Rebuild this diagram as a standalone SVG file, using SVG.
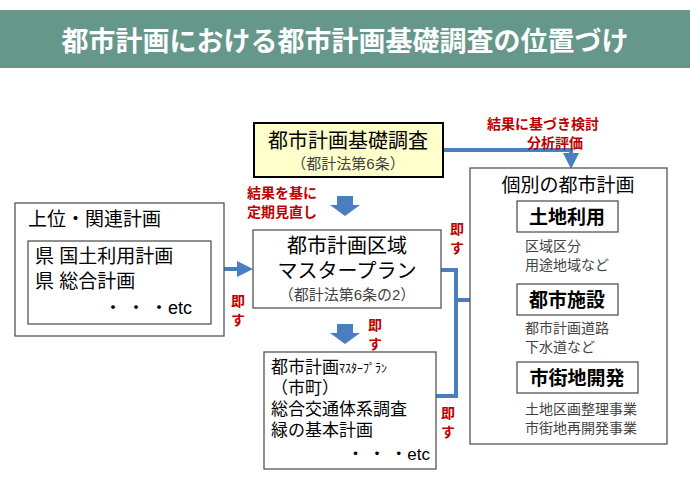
<svg xmlns="http://www.w3.org/2000/svg" width="690" height="478" viewBox="0 0 690 478">
<style>
text{font-family:"Liberation Sans","Noto Sans CJK JP",sans-serif;fill:#000}
.b{fill:#fff;stroke:#555;stroke-width:1.3}
.r{fill:#c00000;font-size:14px;font-weight:bold}
.g{fill:#444;font-size:14px}
.h{font-size:19px;font-weight:bold}
.c{stroke:#4a7ebf;stroke-width:4;fill:none}
.ba{fill:#4a7ebf}
</style>
<defs><marker id="a" markerWidth="4" markerHeight="4" refX="2.5" refY="2" orient="auto" markerUnits="strokeWidth"><path d="M0,0L4,2L0,4Z" fill="#4a7ebf"/></marker></defs>
<rect x="0" y="10" width="690" height="58" fill="#66978b"/>
<text x="345" y="51" text-anchor="middle" style="fill:#fff;font-size:27px;font-weight:bold">都市計画における都市計画基礎調査の位置づけ</text>
<g id="connectors">
<path class="c" d="M443,150H571V163" marker-end="url(#a)"/>
<path class="c" d="M224,269H247" marker-end="url(#a)"/>
<path class="c" d="M441,270H456V396H436M456,300H511" marker-end="url(#a)"/>
<path class="c" d="M511,216H492V378H511" marker-end="url(#a)"/>
<path class="c" d="M492,216H511" marker-end="url(#a)"/>
<path class="ba" d="M337,196H353V205H360L345,216L330,205H337Z"/>
<path class="ba" d="M337,324H353V333H360L345,344L330,333H337Z"/>
</g>
<g id="kiso"><rect x="254" y="123" width="189" height="54" fill="#ffffcc" stroke="#000" stroke-width="2"/>
<text x="348" y="148" text-anchor="middle" style="font-size:20px">都市計画基礎調査</text>
<text x="348" y="169" text-anchor="middle" class="g" style="font-size:15px">（都計法第6条）</text></g>
<g id="jouijo"><rect class="b" x="15" y="203" width="209" height="133"/>
<text x="28" y="226" style="font-size:19px">上位・関連計画</text>
<rect class="b" x="28" y="241" width="183" height="83"/>
<text x="35" y="263" style="font-size:19px">県 国土利用計画</text>
<text x="35" y="288" style="font-size:19px">県 総合計画</text>
<text x="192" y="314" text-anchor="end" style="font-size:18px">・ ・ ・etc</text></g>
<g id="mp"><rect class="b" x="253" y="230" width="188" height="78"/>
<text x="347" y="253" text-anchor="middle" style="font-size:20px">都市計画区域</text>
<text x="347" y="278" text-anchor="middle" style="font-size:20px">マスタープラン</text>
<text x="347" y="300" text-anchor="middle" class="g" style="font-size:15px">（都計法第6条の2）</text></g>
<g id="shimp"><rect class="b" x="264" y="352" width="172" height="117"/>
<text x="271" y="373" style="font-size:17px">都市計画<tspan style="font-size:12px">ﾏｽﾀｰﾌﾟﾗﾝ</tspan></text>
<text x="271" y="394" style="font-size:17px">（市町）</text>
<text x="271" y="415" style="font-size:17px">総合交通体系調査</text>
<text x="271" y="436" style="font-size:17px">緑の基本計画</text>
<text x="430" y="460" text-anchor="end" style="font-size:17px">・ ・ ・etc</text></g>
<g id="kobetsu"><rect class="b" x="470" y="168" width="197" height="276"/>
<text x="568" y="192" text-anchor="middle" style="font-size:19px">個別の都市計画</text>
<rect class="b" x="517" y="201" width="101" height="31"/>
<text x="567" y="224" text-anchor="middle" class="h">土地利用</text>
<text x="525" y="251" class="g">区域区分</text><text x="525" y="270" class="g">用途地域など</text>
<rect class="b" x="517" y="284" width="101" height="31"/>
<text x="567" y="307" text-anchor="middle" class="h">都市施設</text>
<text x="525" y="333" class="g">都市計画道路</text><text x="525" y="352" class="g">下水道など</text>
<rect class="b" x="517" y="362" width="121" height="31"/>
<text x="577" y="385" text-anchor="middle" class="h">市街地開発</text>
<text x="525" y="414" class="g">土地区画整理事業</text><text x="525" y="433" class="g">市街地再開発事業</text></g>
<g id="labels">
<text x="487" y="129" class="r">結果に基づき検討</text><text x="583" y="148" text-anchor="end" class="r">分析評価</text>
<text x="247" y="198" class="r">結果を基に</text><text x="247" y="217" class="r">定期見直し</text>
<text x="231" y="306" class="r">即</text><text x="231" y="325" class="r">す</text>
<text x="368" y="330" class="r">即</text><text x="368" y="349" class="r">す</text>
<text x="450" y="234" class="r">即</text><text x="450" y="253" class="r">す</text>
<text x="441" y="418" class="r">即</text><text x="441" y="437" class="r">す</text>
</g>
</svg>
